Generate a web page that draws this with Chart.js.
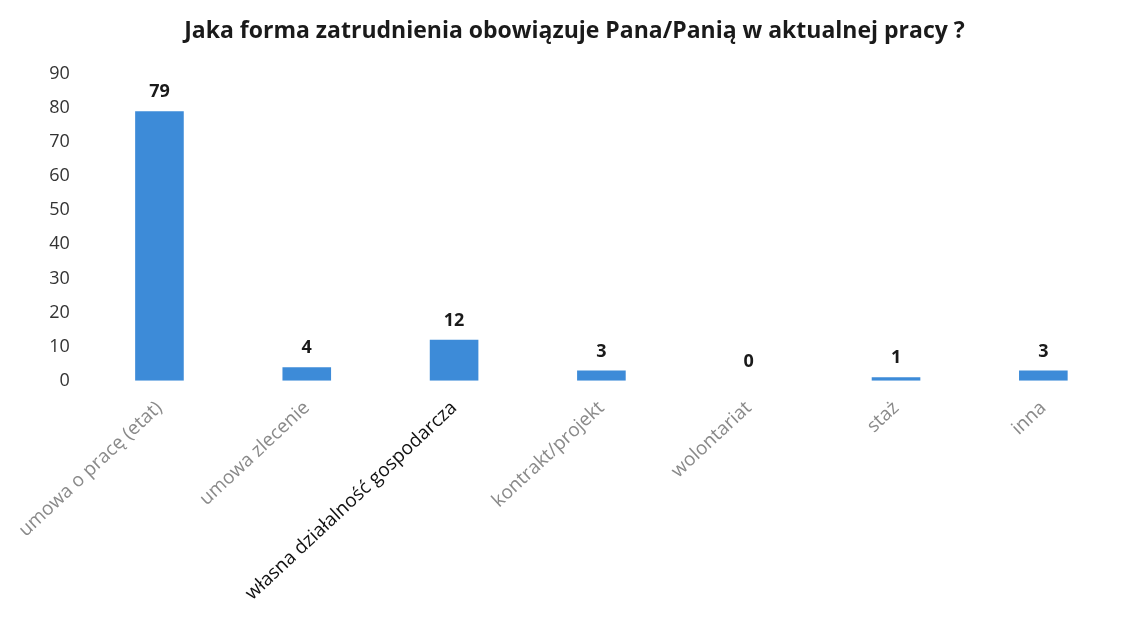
<!DOCTYPE html>
<html>
<head>
<meta charset="utf-8">
<script src="https://cdn.jsdelivr.net/npm/chart.js@4"></script>
<style>
  html, body { margin: 0; padding: 0; background: #fff; }
  #wrap { width: 1137px; height: 643px; }
</style>
</head>
<body>
<div id="wrap"><canvas id="chart" width="1137" height="643"></canvas></div>
<script>
const categories = [
  "umowa o pracę (etat)",
  "umowa zlecenie",
  "własna działalność gospodarcza",
  "kontrakt/projekt",
  "wolontariat",
  "staż",
  "inna"
];
const counts = [79, 4, 12, 3, 0, 1, 3];
const yTicks = [0, 10, 20, 30, 40, 50, 60, 70, 80, 90];

const ctx = document.getElementById("chart").getContext("2d");

// numbers above the bars
const valueLabels = {
  id: "valueLabels",
  afterDatasetsDraw(chart) {
    const c = chart.ctx;
    const meta = chart.getDatasetMeta(0);
    c.save();
    c.font = "bold 18px 'Open Sans', sans-serif";
    c.fillStyle = "#1a1a1a";
    c.textAlign = "center";
    c.textBaseline = "bottom";
    meta.data.forEach((bar, i) => {
      c.fillText(String(counts[i]), bar.x, bar.y - 10);
    });
    c.restore();
  }
};

new Chart(ctx, {
  type: "bar",
  data: {
    labels: categories,
    datasets: [
      {
        data: counts,
        backgroundColor: "#3d8bd8",
        borderWidth: 0,
        categoryPercentage: 1,
        barPercentage: 0.33,
      },
    ],
  },
  plugins: [valueLabels],
  options: {
    responsive: false,
    animation: false,
    layout: {
      padding: { top: 8, left: 32, right: 20, bottom: 22 },
    },
    plugins: {
      legend: { display: false },
      tooltip: { enabled: false },
      title: {
        display: true,
        text: "Jaka forma zatrudnienia obowiązuje Pana/Panią w aktualnej pracy ?",
        color: "#1a1a1a",
        font: { family: "'Open Sans', sans-serif", size: 23, weight: "bold" },
        padding: { top: 10, bottom: 28 },
      },
    },
    scales: {
      y: {
        min: 0,
        max: 90,
        afterBuildTicks: (axis) => {
          axis.ticks = yTicks.map((v) => ({ value: v }));
        },
        grid: { display: false, drawTicks: false },
        border: { display: false },
        ticks: {
          color: "#333",
          padding: 16,
          font: { family: "'Open Sans', sans-serif", size: 18 },
        },
      },
      x: {
        grid: { display: false, drawTicks: false },
        border: { display: false },
        ticks: {
          minRotation: 43,
          maxRotation: 43,
          padding: 16,
          color: (c) => (c.index === 2 ? "#111" : "#8a8a8a"),
          font: { family: "'Open Sans', sans-serif", size: 19 },
        },
      },
    },
  },
});
</script>
</body>
</html>
